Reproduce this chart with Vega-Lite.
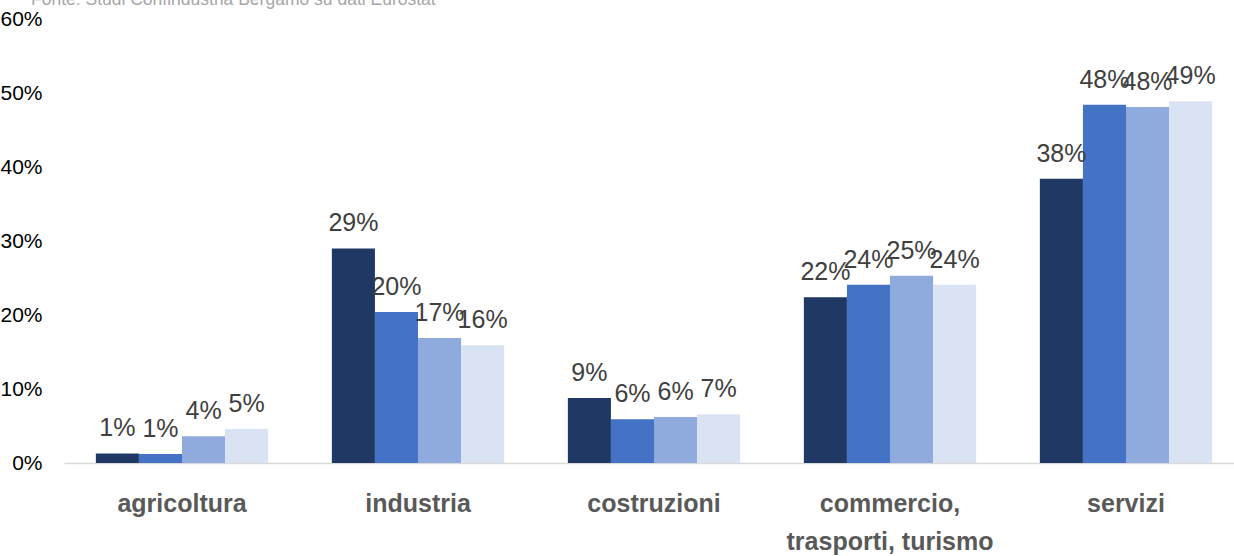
{
  "$schema": "https://vega.github.io/schema/vega-lite/v6.json",
  "width": 1180,
  "height": 444,
  "autosize": {"type": "none"},
  "padding": {"left": 64, "top": 19, "right": 0, "bottom": 93},
  "background": "white",
  "title": {
    "text": "Fonte: Studi Confindustria Bergamo su dati Eurostat",
    "anchor": "start",
    "frame": "group",
    "orient": "top",
    "baseline": "alphabetic",
    "offset": -14,
    "dx": -33,
    "font": "Liberation Sans",
    "fontSize": 17.5,
    "fontWeight": "normal",
    "color": "#a6a6a6"
  },
  "data": {
    "values": [
      {"settore": "agricoltura", "serie": "A", "valore": 0.013},
      {"settore": "agricoltura", "serie": "B", "valore": 0.012},
      {"settore": "agricoltura", "serie": "C", "valore": 0.036},
      {"settore": "agricoltura", "serie": "D", "valore": 0.046},
      {"settore": "industria", "serie": "A", "valore": 0.29},
      {"settore": "industria", "serie": "B", "valore": 0.204},
      {"settore": "industria", "serie": "C", "valore": 0.169},
      {"settore": "industria", "serie": "D", "valore": 0.159},
      {"settore": "costruzioni", "serie": "A", "valore": 0.088},
      {"settore": "costruzioni", "serie": "B", "valore": 0.059},
      {"settore": "costruzioni", "serie": "C", "valore": 0.062},
      {"settore": "costruzioni", "serie": "D", "valore": 0.066},
      {"settore": "commercio,|trasporti, turismo", "serie": "A", "valore": 0.224},
      {"settore": "commercio,|trasporti, turismo", "serie": "B", "valore": 0.241},
      {"settore": "commercio,|trasporti, turismo", "serie": "C", "valore": 0.253},
      {"settore": "commercio,|trasporti, turismo", "serie": "D", "valore": 0.241},
      {"settore": "servizi", "serie": "A", "valore": 0.384},
      {"settore": "servizi", "serie": "B", "valore": 0.484},
      {"settore": "servizi", "serie": "C", "valore": 0.481},
      {"settore": "servizi", "serie": "D", "valore": 0.489}
    ]
  },
  "encoding": {
    "x": {
      "field": "settore",
      "type": "nominal",
      "sort": null,
      "scale": {"paddingInner": 0.27, "paddingOuter": 0.135},
      "axis": {
        "title": null,
        "labelAngle": 0,
        "labelExpr": "split(datum.label, '|')",
        "labelFont": "Liberation Sans",
        "labelFontSize": 25,
        "labelFontWeight": "bold",
        "labelColor": "#595959",
        "labelLineHeight": 38,
        "labelPadding": 28,
        "labelLimit": 400,
        "labelBaseline": "top",
        "ticks": false,
        "domainColor": "#d9d9d9",
        "domainWidth": 1.5,
        "grid": false
      }
    },
    "xOffset": {
      "field": "serie",
      "type": "nominal",
      "scale": {"paddingInner": 0, "paddingOuter": 0}
    },
    "y": {
      "field": "valore",
      "type": "quantitative",
      "scale": {"domain": [0, 0.6], "nice": false},
      "axis": {
        "title": null,
        "format": ".0%",
        "values": [0, 0.1, 0.2, 0.3, 0.4, 0.5, 0.6],
        "labelFont": "Liberation Sans",
        "labelFontSize": 21,
        "labelColor": "#000000",
        "labelPadding": 22,
        "ticks": false,
        "domain": false,
        "grid": false
      }
    }
  },
  "layer": [
    {
      "mark": {"type": "bar"},
      "encoding": {
        "color": {
          "field": "serie",
          "type": "nominal",
          "scale": {"range": ["#1f3864", "#4472c4", "#8faadc", "#dae3f3"]},
          "legend": null
        }
      }
    },
    {
      "mark": {
        "type": "text",
        "baseline": "alphabetic",
        "dy": -17,
        "font": "Liberation Sans",
        "fontSize": 25,
        "color": "#404040"
      },
      "encoding": {
        "text": {"field": "valore", "type": "quantitative", "format": ".0%"}
      }
    }
  ],
  "config": {"view": {"stroke": null}}
}
